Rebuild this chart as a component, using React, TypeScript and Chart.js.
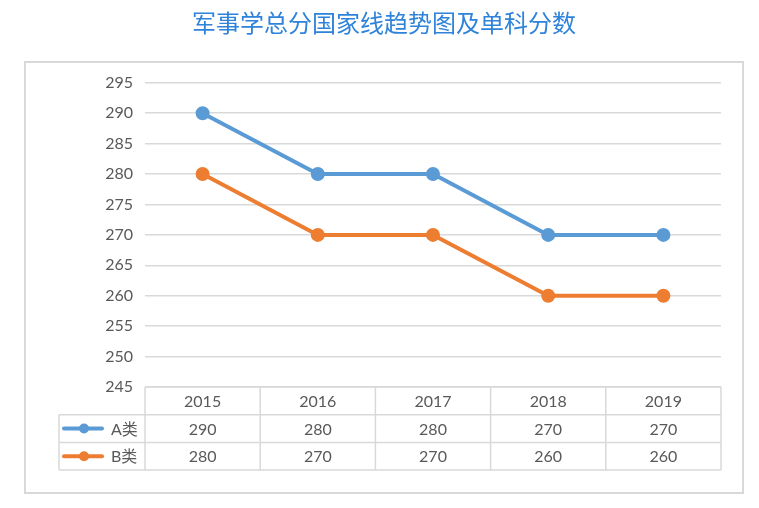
import React, { useEffect, useRef } from "react";
import { Chart, registerables } from "chart.js";

Chart.register(...registerables);

const titleText = "军事学总分国家线趋势图及单科分数";
const years = ["2015", "2016", "2017", "2018", "2019"];
const seriesNames = ["A类", "B类"];
const seriesA = [290, 280, 280, 270, 270];
const seriesB = [280, 270, 270, 260, 260];
const colors = ["#5B9BD5", "#ED7D31"];
const yMin = 245;
const yMax = 295;
const yStep = 5;

const GRID = "#D9D9D9";
const TEXT = "#595959";
const FONT = "Lato, 'Liberation Sans', sans-serif";
const FS = 16;

const frameAndTable = {
  id: "frameAndTable",
  beforeDraw(chart: any) {
    const ctx = chart.ctx;
    ctx.save();
    ctx.fillStyle = "#ffffff";
    ctx.fillRect(0, 0, chart.width, chart.height);
    ctx.strokeStyle = GRID;
    ctx.lineWidth = 2;
    ctx.strokeRect(25, 62, 718, 431);
    ctx.restore();
  },
  afterDraw(chart: any) {
    const ctx = chart.ctx;
    const xs = chart.scales.x;
    const area = chart.chartArea;
    const n = years.length;
    const colW = (area.right - area.left) / n;
    const top = area.bottom;
    const rowH = 27.7;
    const legendLeft = area.left - 86;
    const datasets = chart.data.datasets;
    const rows = datasets.length;
    const bottom = top + rowH * (rows + 1);
    ctx.save();
    ctx.strokeStyle = GRID;
    ctx.lineWidth = 1.5;
    ctx.beginPath();
    ctx.moveTo(area.left, top);
    ctx.lineTo(area.right, top);
    for (let r = 1; r <= rows + 1; r++) {
      const y = top + rowH * r;
      ctx.moveTo(legendLeft, y);
      ctx.lineTo(area.right, y);
    }
    for (let i = 0; i <= n; i++) {
      const x = area.left + colW * i;
      ctx.moveTo(x, top);
      ctx.lineTo(x, bottom);
    }
    ctx.moveTo(legendLeft, top + rowH);
    ctx.lineTo(legendLeft, bottom);
    ctx.stroke();

    ctx.fillStyle = TEXT;
    ctx.font = `${FS}px ${FONT}`;
    ctx.textAlign = "center";
    ctx.textBaseline = "middle";
    years.forEach((yr, i) => {
      const cx = xs.getPixelForValue(i);
      ctx.fillText(yr, cx, top + rowH / 2 + 1);
    });
    datasets.forEach((ds: any, r: number) => {
      const cy = top + rowH * (r + 1) + rowH / 2 + 1;
      ds.data.forEach((v: number, i: number) => {
        const cx = xs.getPixelForValue(i);
        ctx.fillStyle = TEXT;
        ctx.fillText(String(v), cx, cy);
      });
      ctx.strokeStyle = ds.borderColor;
      ctx.lineWidth = 4;
      ctx.lineCap = "round";
      ctx.beginPath();
      ctx.moveTo(legendLeft + 5, cy - 1);
      ctx.lineTo(legendLeft + 43, cy - 1);
      ctx.stroke();
      ctx.fillStyle = ds.borderColor;
      ctx.beginPath();
      ctx.arc(legendLeft + 25, cy - 1, 5, 0, Math.PI * 2);
      ctx.fill();
      ctx.fillStyle = TEXT;
      ctx.textAlign = "left";
      ctx.font = `${FS}px ${FONT}, 'Noto Sans CJK SC'`;
      ctx.fillText(ds.label, legendLeft + 52, cy);
      ctx.textAlign = "center";
      ctx.font = `${FS}px ${FONT}`;
    });
    ctx.restore();
  },
};

export default function App() {
  const ref = useRef<HTMLCanvasElement>(null);
  useEffect(() => {
    if (!ref.current) return;
    const chart = new Chart(ref.current, {
      type: "line",
      data: {
        labels: years,
        datasets: [
          {
            label: seriesNames[0],
            data: seriesA,
            borderColor: colors[0],
            backgroundColor: colors[0],
            pointBackgroundColor: colors[0],
            pointBorderColor: colors[0],
            borderWidth: 4,
            pointRadius: 5,
            tension: 0,
          },
          {
            label: seriesNames[1],
            data: seriesB,
            borderColor: colors[1],
            backgroundColor: colors[1],
            pointBackgroundColor: colors[1],
            pointBorderColor: colors[1],
            borderWidth: 4,
            pointRadius: 5,
            tension: 0,
          },
        ],
      },
      options: {
        animation: false,
        responsive: false,
        devicePixelRatio: 1,
        layout: { padding: { left: 47, right: 38, top: 0, bottom: 121 } },
        plugins: {
          legend: { display: false },
          tooltip: { enabled: false },
          title: {
            display: true,
            text: titleText,
            color: "#2F83DA",
            font: { family: "'Noto Sans CJK SC'", size: 24, weight: "normal", lineHeight: 1.2 },
            padding: { top: 8, bottom: 46 },
          },
        },
        scales: {
          x: {
            type: "category",
            offset: true,
            display: false,
          },
          y: {
            min: yMin,
            max: yMax,
            ticks: {
              stepSize: yStep,
              color: TEXT,
              font: { family: FONT, size: FS },
              padding: 12,
            },
            grid: { color: GRID, lineWidth: 1.5, drawTicks: false },
            border: { display: false },
            afterFit(scale: any) {
              scale.width = 98;
            },
          },
        },
      },
      plugins: [frameAndTable],
    });
    return () => chart.destroy();
  }, []);
  return (
    <div style={{ position: "absolute", left: 0, top: 0, width: 759, height: 508 }}>
      <canvas ref={ref} width={759} height={508} />
    </div>
  );
}
